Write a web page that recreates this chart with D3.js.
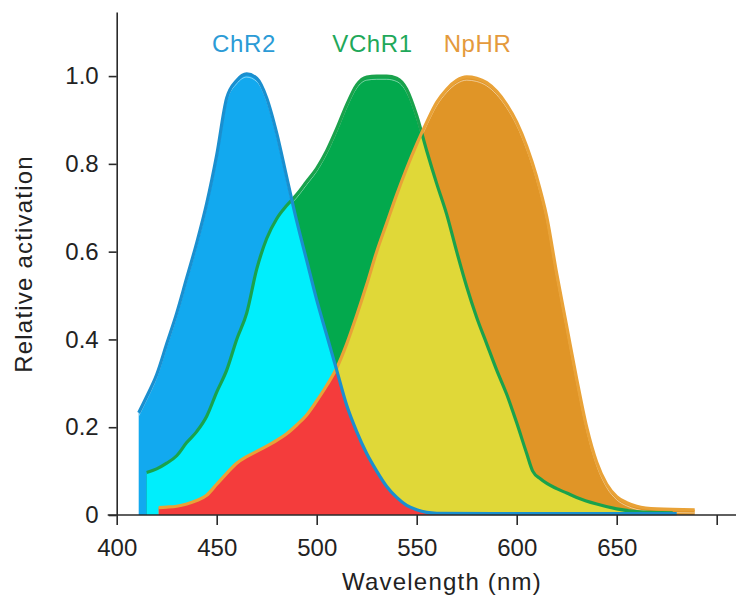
<!DOCTYPE html>
<html>
<head>
<meta charset="utf-8">
<script src="https://cdn.jsdelivr.net/npm/d3@7"></script>
<style>
    html, body { margin: 0; padding: 0; background: #fff; }
    svg { display: block; font-family: 'Liberation Sans', Arial, sans-serif; }
</style>
</head>
<body>
<svg id="chart" width="736" height="599"></svg>
<script>
// wavelengths (nm) and relative activation
const chr2Nm  = [411, 415, 420, 425, 430, 435, 440, 445, 450, 455, 460, 465, 470, 475, 480, 485, 490, 495, 500, 505, 510, 515, 520, 525, 530, 535, 540, 545, 550, 555, 560, 600, 650, 680];
const chr2Val = [0.233, 0.27, 0.32, 0.39, 0.46, 0.54, 0.62, 0.71, 0.82, 0.95, 0.99, 1.005, 0.995, 0.95, 0.87, 0.77, 0.67, 0.58, 0.49, 0.41, 0.33, 0.25, 0.19, 0.14, 0.10, 0.065, 0.04, 0.022, 0.012, 0.006, 0.004, 0.003, 0.003, 0.003];

const vchr1Nm  = [415, 420, 425, 430, 435, 440, 445, 450, 455, 460, 465, 470, 475, 480, 485, 490, 495, 500, 505, 510, 515, 520, 525, 530, 535, 540, 545, 550, 555, 560, 565, 570, 575, 580, 585, 590, 595, 600, 605, 608, 612, 620, 625, 630, 640, 650, 660, 678];
const vchr1Val = [0.097, 0.105, 0.118, 0.135, 0.165, 0.19, 0.225, 0.28, 0.33, 0.40, 0.46, 0.56, 0.63, 0.675, 0.705, 0.73, 0.76, 0.79, 0.83, 0.88, 0.935, 0.98, 0.998, 1.0, 1.0, 0.995, 0.97, 0.91, 0.83, 0.755, 0.685, 0.60, 0.52, 0.45, 0.39, 0.33, 0.275, 0.21, 0.14, 0.10, 0.082, 0.06, 0.05, 0.04, 0.025, 0.014, 0.008, 0.005];

const nphrNm  = [421, 425, 430, 435, 440, 445, 450, 455, 460, 465, 470, 475, 480, 485, 490, 495, 500, 505, 510, 515, 520, 525, 530, 535, 540, 545, 550, 555, 560, 565, 570, 575, 580, 585, 590, 595, 600, 605, 610, 615, 620, 625, 630, 635, 640, 645, 650, 655, 660, 670, 689];
const nphrVal = [0.017, 0.018, 0.02, 0.025, 0.033, 0.045, 0.07, 0.095, 0.118, 0.133, 0.145, 0.157, 0.17, 0.185, 0.205, 0.228, 0.26, 0.295, 0.335, 0.39, 0.455, 0.525, 0.60, 0.665, 0.73, 0.79, 0.845, 0.895, 0.94, 0.97, 0.99, 0.998, 0.995, 0.985, 0.965, 0.935, 0.895, 0.84, 0.77, 0.68, 0.55, 0.43, 0.31, 0.20, 0.12, 0.07, 0.042, 0.028, 0.02, 0.014, 0.012];

const seriesNames = ['ChR2', 'VChR1', 'NpHR'];
const xTicks = [400, 450, 500, 550, 600, 650, 700];
const xTickLabels = ['400', '450', '500', '550', '600', '650', ''];
const yTicks = [0, 0.2, 0.4, 0.6, 0.8, 1.0];
const yTickLabels = ['0', '0.2', '0.4', '0.6', '0.8', '1.0'];

const colors = {
    chr2: '#12a9ef', chr2Line: '#1a8fcf', chr2Text: '#2b9bd6',
    vchr1: '#03a94d', vchr1Line: '#1aa24c', vchr1Text: '#1fa85a',
    nphr: '#e09527', nphrLine: '#e9a237', nphrText: '#e49a3c',
    cyan: '#00eefc', yellow: '#e0d838', red: '#f43c3c'
};

const svg = d3.select('#chart');

const x = d3.scaleLinear().domain([400, 710]).range([116.7, 736.7]);
const y = d3.scaleLinear().domain([0, 1.146]).range([515, 12]);

const toPoints = (nm, val) => nm.map((d, i) => ({ nm: d, v: val[i] }));
const series = {
    chr2: toPoints(chr2Nm, chr2Val),
    vchr1: toPoints(vchr1Nm, vchr1Val),
    nphr: toPoints(nphrNm, nphrVal)
};

const area = d3.area()
    .x((d) => x(d.nm))
    .y0(y(0))
    .y1((d) => y(d.v))
    .curve(d3.curveMonotoneX);

const line = d3.line()
    .x((d) => x(d.nm))
    .y((d) => y(d.v))
    .curve(d3.curveMonotoneX);

const defs = svg.append('defs');
Object.keys(series).forEach((key) => {
    defs.append('clipPath')
        .attr('id', 'clip-' + key)
        .append('path')
        .attr('d', area(series[key]));
});

const plot = svg.append('g');

// base fills
['chr2', 'vchr1', 'nphr'].forEach((key) => {
    plot.append('path')
        .attr('d', area(series[key]))
        .attr('fill', colors[key]);
});

// faint inner highlight that runs just inside each curve
['chr2', 'vchr1', 'nphr'].forEach((key) => {
    plot.append('g')
        .attr('clip-path', 'url(#clip-' + key + ')')
        .append('path')
        .attr('d', line(series[key]))
        .attr('transform', 'translate(0,3.2)')
        .attr('fill', 'none')
        .attr('stroke', '#ffffff')
        .attr('stroke-opacity', 0.55)
        .attr('stroke-width', 0.9);
});

// overlaps
plot.append('path')
    .attr('d', area(series.vchr1))
    .attr('clip-path', 'url(#clip-chr2)')
    .attr('fill', colors.cyan);

plot.append('path')
    .attr('d', area(series.nphr))
    .attr('clip-path', 'url(#clip-vchr1)')
    .attr('fill', colors.yellow);

plot.append('g')
    .attr('clip-path', 'url(#clip-chr2)')
    .append('path')
    .attr('d', area(series.nphr))
    .attr('clip-path', 'url(#clip-vchr1)')
    .attr('fill', colors.red);

// outlines
[['vchr1', colors.vchr1Line], ['nphr', colors.nphrLine], ['chr2', colors.chr2Line]].forEach(([key, c]) => {
    plot.append('path')
        .attr('d', line(series[key]))
        .attr('fill', 'none')
        .attr('stroke', c)
        .attr('stroke-width', 3.2)
        .attr('stroke-linejoin', 'round');
});

// axes
const xAxis = d3.axisBottom(x)
    .tickValues(xTicks)
    .tickFormat((d, i) => xTickLabels[i])
    .tickSize(10)
    .tickSizeOuter(0)
    .tickPadding(14);

const yAxis = d3.axisLeft(y)
    .tickValues(yTicks)
    .tickFormat((d, i) => yTickLabels[i])
    .tickSize(8)
    .tickSizeOuter(0)
    .tickPadding(10);

const gx = svg.append('g')
    .attr('transform', `translate(0,${y(0)})`)
    .call(xAxis);

const gy = svg.append('g')
    .attr('transform', `translate(${x(400)},0)`)
    .call(yAxis);

[gx, gy].forEach((g) => {
    g.select('.domain').attr('stroke', '#2a2a2a').attr('stroke-width', 1.6);
    g.selectAll('.tick line').attr('stroke', '#2a2a2a').attr('stroke-width', 1.6);
    g.selectAll('.tick text')
        .attr('fill', '#222')
        .style('font-size', '24px')
        .style('font-family', "'Liberation Sans', Arial, sans-serif");
});

gx.select('.domain').attr('d', `M${x(400) - 9},0H736`);

// axis titles
svg.append('text')
    .attr('x', 442)
    .attr('y', 590)
    .attr('text-anchor', 'middle')
    .attr('fill', '#222')
    .attr('font-size', 24)
    .attr('letter-spacing', 1.2)
    .text('Wavelength (nm)');

svg.append('text')
    .attr('transform', 'translate(32,264) rotate(-90)')
    .attr('text-anchor', 'middle')
    .attr('fill', '#222')
    .attr('font-size', 24)
    .attr('letter-spacing', 1.2)
    .text('Relative activation');

// series labels
const labelX = [244, 372.5, 477.5];
const labelColors = [colors.chr2Text, colors.vchr1Text, colors.nphrText];
svg.selectAll('.series-label')
    .data(seriesNames)
    .join('text')
    .attr('class', 'series-label')
    .attr('x', (d, i) => labelX[i])
    .attr('y', 52)
    .attr('text-anchor', 'middle')
    .attr('fill', (d, i) => labelColors[i])
    .attr('font-size', 24)
    .attr('letter-spacing', 0.6)
    .text((d) => d);
</script>
</body>
</html>
